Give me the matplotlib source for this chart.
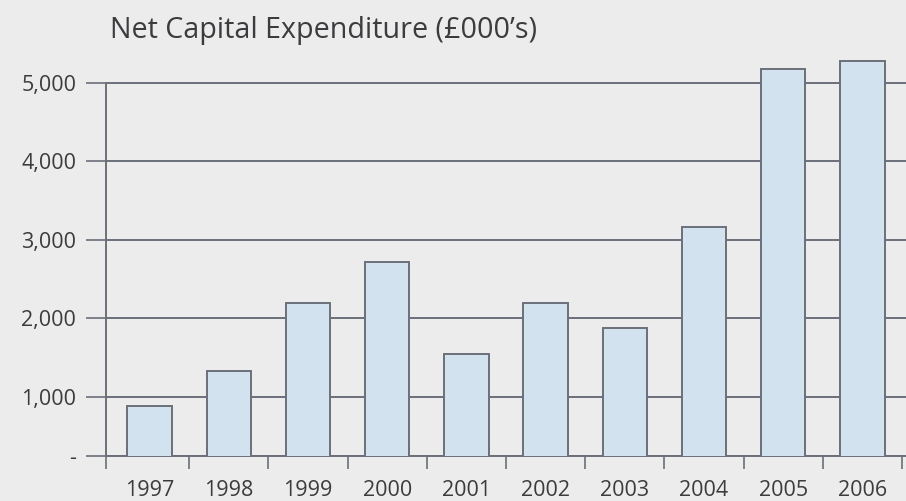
import matplotlib.pyplot as plt
from matplotlib.ticker import FixedLocator

years = ["1997", "1998", "1999", "2000", "2001", "2002", "2003", "2004", "2005", "2006"]
spend = [885, 1330, 2200, 2720, 1550, 2200, 1880, 3160, 5170, 5280]
y_ticks = [250, 1000, 2000, 3000, 4000, 5000]
y_labels = ["-", "1,000", "2,000", "3,000", "4,000", "5,000"]

bg = "#ececed"
line = "#6b6f79"
text_col = "#3c3c3e"

plt.rcParams["font.family"] = ["Open Sans", "DejaVu Sans"]

fig = plt.figure(figsize=(9.06, 5.01), dpi=100, facecolor=bg)
ax = fig.add_axes([106 / 906, 45 / 501, 800 / 906, 406 / 501], facecolor=bg)

x = list(range(len(years)))
ax.bar(x, spend, width=0.56, color="#d2e2ef", edgecolor=line, linewidth=1.4, zorder=3)

ax.set_xlim(-0.55, 9.55)
ax.set_ylim(250, 5416)

ax.set_yticks(y_ticks)
ax.set_yticklabels(y_labels)
ax.set_xticks(x)
ax.set_xticklabels(years)
ax.xaxis.set_minor_locator(FixedLocator([-0.55] + [i + 0.5 for i in range(10)]))

ax.yaxis.grid(True, color=line, linewidth=1.4)
ax.set_axisbelow(True)

ax.tick_params(axis="y", length=14.4, width=1.2, color=line, pad=7,
               labelsize=15.5, labelcolor=text_col)
ax.tick_params(axis="x", which="major", length=0, pad=17,
               labelsize=15.5, labelcolor=text_col)
ax.tick_params(axis="x", which="minor", length=9.5, width=1.2, color=line)

for s in ["top", "right"]:
    ax.spines[s].set_visible(False)
ax.spines["left"].set_bounds(250, 5000)
ax.spines["left"].set_color(line)
ax.spines["left"].set_linewidth(1.4)
ax.spines["bottom"].set_color(line)
ax.spines["bottom"].set_linewidth(1.4)

fig.text(110 / 906, (501 - 38) / 501, "Net Capital Expenditure (£000’s)",
         fontsize=20.6, color=text_col, va="baseline", ha="left")

fig.savefig("out.png", dpi=100, facecolor=bg)
